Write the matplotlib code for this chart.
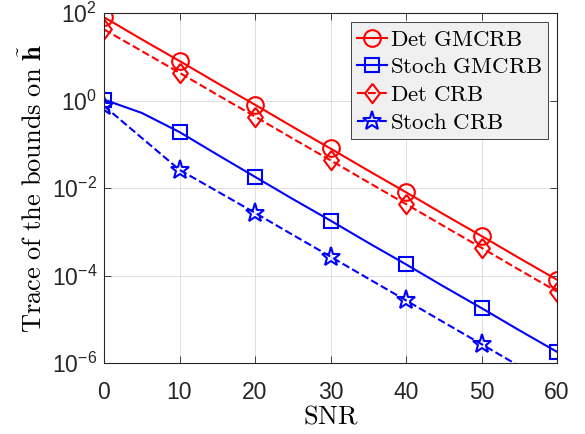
import matplotlib
matplotlib.use("Agg")
import matplotlib.pyplot as plt
import numpy as np

plt.rcParams['font.family'] = ['Liberation Sans', 'DejaVu Sans']
plt.rcParams['mathtext.fontset'] = 'cm'

snr = [0, 5, 10, 15, 20, 25, 30, 35, 40, 45, 50, 55, 60]
det_gmcrb = [80, 25, 8, 2.5, 0.8, 0.25, 0.08, 0.025, 0.008, 0.0025, 8e-4, 2.5e-4, 8e-5]
stoch_gmcrb = [1.05, 0.52, 0.19, 0.058, 0.018, 0.0056, 0.0018, 5.6e-4, 1.8e-4, 5.6e-5, 1.8e-5, 5.6e-6, 1.8e-6]
det_crb = [42, 13.5, 4.3, 1.35, 0.43, 0.135, 0.043, 0.0135, 0.0043, 0.00135, 4.3e-4, 1.35e-4, 4.3e-5]
stoch_crb = [0.75, 0.14, 0.026, 0.0084, 0.0027, 8.5e-4, 2.7e-4, 8.5e-5, 2.7e-5, 8.5e-6, 2.7e-6, 8.5e-7, 2.7e-7]

# matlab style diamond, a bit taller than wide
diamond = [(0, 1), (0.76, 0), (0, -1), (-0.76, 0), (0, 1)]

fig = plt.figure(figsize=(5.85, 4.34), dpi=100)
ax = fig.add_axes([104/585, 1 - 363/434, 453/585, 350/434])

kw = dict(lw=1.5, markerfacecolor='none', markeredgewidth=1.5, markevery=2)
ax.semilogy(snr, det_gmcrb, '-', color='r', marker='o', markersize=12,
            label=r'$\mathrm{Det\ GMCRB}$', **kw)
ax.semilogy(snr, stoch_gmcrb, '-', color='b', marker='s', markersize=9.5,
            label=r'$\mathrm{Stoch\ GMCRB}$', **kw)
ax.semilogy(snr, det_crb, '--', color='r', marker=diamond, markersize=14,
            label=r'$\mathrm{Det\ CRB}$', **kw)
ax.semilogy(snr, stoch_crb, '--', color='b', marker='*', markersize=14,
            label=r'$\mathrm{Stoch\ CRB}$', **kw)

ax.set_xlim(0, 60)
ax.set_ylim(1e-6, 1e2)
ax.set_xticks(np.arange(0, 61, 10))
ax.set_yticks([1e-6, 1e-4, 1e-2, 1e0, 1e2])
ax.tick_params(axis='both', which='both', direction='in', top=True, right=True,
               labelsize=16.5, colors='#262626', width=0.6)
ax.tick_params(which='major', length=5)
ax.tick_params(which='minor', length=3)
ax.tick_params(axis='x', which='minor', bottom=False, top=False)
ax.tick_params(axis='x', pad=13)
ax.tick_params(axis='y', pad=5)
ax.grid(True, which='major', color='#d9d9d9', lw=0.6)
ax.grid(True, which='minor', axis='y', color='#d9d9d9', lw=0.6, ls=':')
ax.set_axisbelow(True)
for s in ax.spines.values():
    s.set_color('#262626')
    s.set_linewidth(0.8)

ax.set_xlabel(r'$\mathrm{SNR}$', fontsize=19, labelpad=0)
ax.set_ylabel(r'$\mathrm{Trace\ of\ the\ bounds\ on\ }\tilde{\mathbf{h}}$', fontsize=19, labelpad=3)

leg = ax.legend(loc='upper right', fontsize=16.5, fancybox=False, framealpha=1,
                borderpad=0.25, labelspacing=0.2, handlelength=1.3, handletextpad=0.15,
                borderaxespad=0.4)
leg.get_frame().set_facecolor('#f0f0f0')
leg.get_frame().set_edgecolor('#262626')
leg.get_frame().set_linewidth(0.6)

fig.savefig('out.png', dpi=100)
